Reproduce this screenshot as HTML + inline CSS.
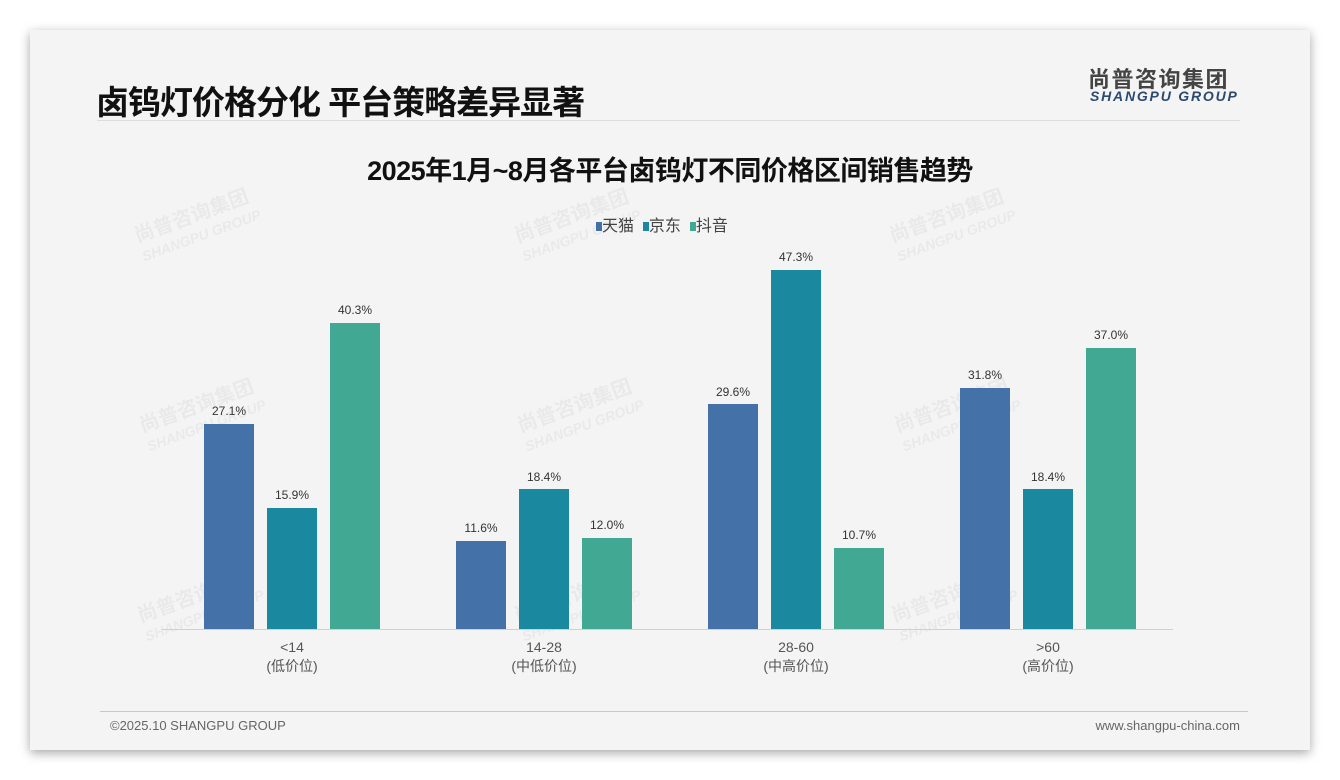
<!DOCTYPE html>
<html><head><meta charset="utf-8"><style>
body{margin:0;width:1340px;height:780px;background:#fff;position:relative;overflow:hidden;font-family:"Liberation Sans","Noto Sans CJK SC",sans-serif}
.card{position:absolute;left:30px;top:30px;width:1280px;height:720px;background:#f4f4f4;box-shadow:0 3px 10px rgba(0,0,0,.35)}
.abs{position:absolute;white-space:nowrap}
.wm{position:absolute;color:rgba(0,0,0,0.045);transform:rotate(-20deg);font-weight:bold;line-height:1}
</style></head><body>
<div class="card"></div>
<div class="abs" style="left:96px;top:76px;font-size:33px;font-weight:bold;color:#111;letter-spacing:-1px">卤钨灯价格分化 平台策略差异显著</div>
<div class="abs" style="left:1088px;top:62px;font-size:22px;font-weight:bold;color:#444;letter-spacing:1.5px">尚普咨询集团</div>
<div class="abs" style="left:1090px;top:88px;font-size:14px;font-weight:bold;font-style:italic;color:#2a4a70;letter-spacing:1.8px">SHANGPU GROUP</div>
<div class="abs" style="left:97px;top:120px;width:1143px;height:1px;background:#ddd"></div>
<div class="abs" style="left:0;width:1340px;top:149px;text-align:center;font-size:27px;font-weight:bold;color:#111;letter-spacing:-0.5px">2025年1月~8月各平台卤钨灯不同价格区间销售趋势</div>
<div class="abs" style="left:596px;top:212px;font-size:16px;color:#444"><span style="display:inline-block;width:6px;height:9px;background:#4472a8"></span>天猫 &nbsp;<span style="display:inline-block;width:6px;height:9px;background:#1a89a0"></span>京东 &nbsp;<span style="display:inline-block;width:6px;height:9px;background:#41a893"></span>抖音</div>
<div class="wm" style="left:135px;top:205px;font-size:20px">尚普咨询集团<br><span style="font-size:14px;font-style:italic">SHANGPU GROUP</span></div>
<div class="wm" style="left:515px;top:205px;font-size:20px">尚普咨询集团<br><span style="font-size:14px;font-style:italic">SHANGPU GROUP</span></div>
<div class="wm" style="left:890px;top:205px;font-size:20px">尚普咨询集团<br><span style="font-size:14px;font-style:italic">SHANGPU GROUP</span></div>
<div class="wm" style="left:140px;top:395px;font-size:20px">尚普咨询集团<br><span style="font-size:14px;font-style:italic">SHANGPU GROUP</span></div>
<div class="wm" style="left:518px;top:395px;font-size:20px">尚普咨询集团<br><span style="font-size:14px;font-style:italic">SHANGPU GROUP</span></div>
<div class="wm" style="left:895px;top:395px;font-size:20px">尚普咨询集团<br><span style="font-size:14px;font-style:italic">SHANGPU GROUP</span></div>
<div class="wm" style="left:138px;top:585px;font-size:20px">尚普咨询集团<br><span style="font-size:14px;font-style:italic">SHANGPU GROUP</span></div>
<div class="wm" style="left:515px;top:585px;font-size:20px">尚普咨询集团<br><span style="font-size:14px;font-style:italic">SHANGPU GROUP</span></div>
<div class="wm" style="left:892px;top:585px;font-size:20px">尚普咨询集团<br><span style="font-size:14px;font-style:italic">SHANGPU GROUP</span></div>
<svg class="abs" style="left:0;top:0" width="1340" height="780" font-family="Liberation Sans, Noto Sans CJK SC, sans-serif">
<line x1="162" y1="629.5" x2="1173" y2="629.5" stroke="#d0d0d0"/>
<g font-size="12" fill="#333" text-anchor="middle">
<rect x="204" y="424" width="50" height="205" fill="#4472a8"/><text x="229" y="415">27.1%</text>
<rect x="267" y="508" width="50" height="121" fill="#1a89a0"/><text x="292" y="499">15.9%</text>
<rect x="330" y="323" width="50" height="306" fill="#41a893"/><text x="355" y="314">40.3%</text>
<rect x="456" y="541" width="50" height="88" fill="#4472a8"/><text x="481" y="532">11.6%</text>
<rect x="519" y="489" width="50" height="140" fill="#1a89a0"/><text x="544" y="481">18.4%</text>
<rect x="582" y="538" width="50" height="91" fill="#41a893"/><text x="607" y="529">12.0%</text>
<rect x="708" y="404" width="50" height="225" fill="#4472a8"/><text x="733" y="396">29.6%</text>
<rect x="771" y="270" width="50" height="359" fill="#1a89a0"/><text x="796" y="261">47.3%</text>
<rect x="834" y="548" width="50" height="81" fill="#41a893"/><text x="859" y="539">10.7%</text>
<rect x="960" y="388" width="50" height="241" fill="#4472a8"/><text x="985" y="379">31.8%</text>
<rect x="1023" y="489" width="50" height="140" fill="#1a89a0"/><text x="1048" y="481">18.4%</text>
<rect x="1086" y="348" width="50" height="281" fill="#41a893"/><text x="1111" y="339">37.0%</text>
</g>
<g font-size="14" fill="#555" text-anchor="middle">
<text x="292" y="652">&lt;14</text><text x="292" y="671">(低价位)</text>
<text x="544" y="652">14-28</text><text x="544" y="671">(中低价位)</text>
<text x="796" y="652">28-60</text><text x="796" y="671">(中高价位)</text>
<text x="1048" y="652">&gt;60</text><text x="1048" y="671">(高价位)</text>
</g>
<line x1="100" y1="711.5" x2="1248" y2="711.5" stroke="#b8cce0"/>
<text x="110" y="730" font-size="13" fill="#666">©2025.10 SHANGPU GROUP</text>
<text x="1240" y="730" font-size="13" fill="#666" text-anchor="end">www.shangpu-china.com</text>
</svg>
</body></html>
